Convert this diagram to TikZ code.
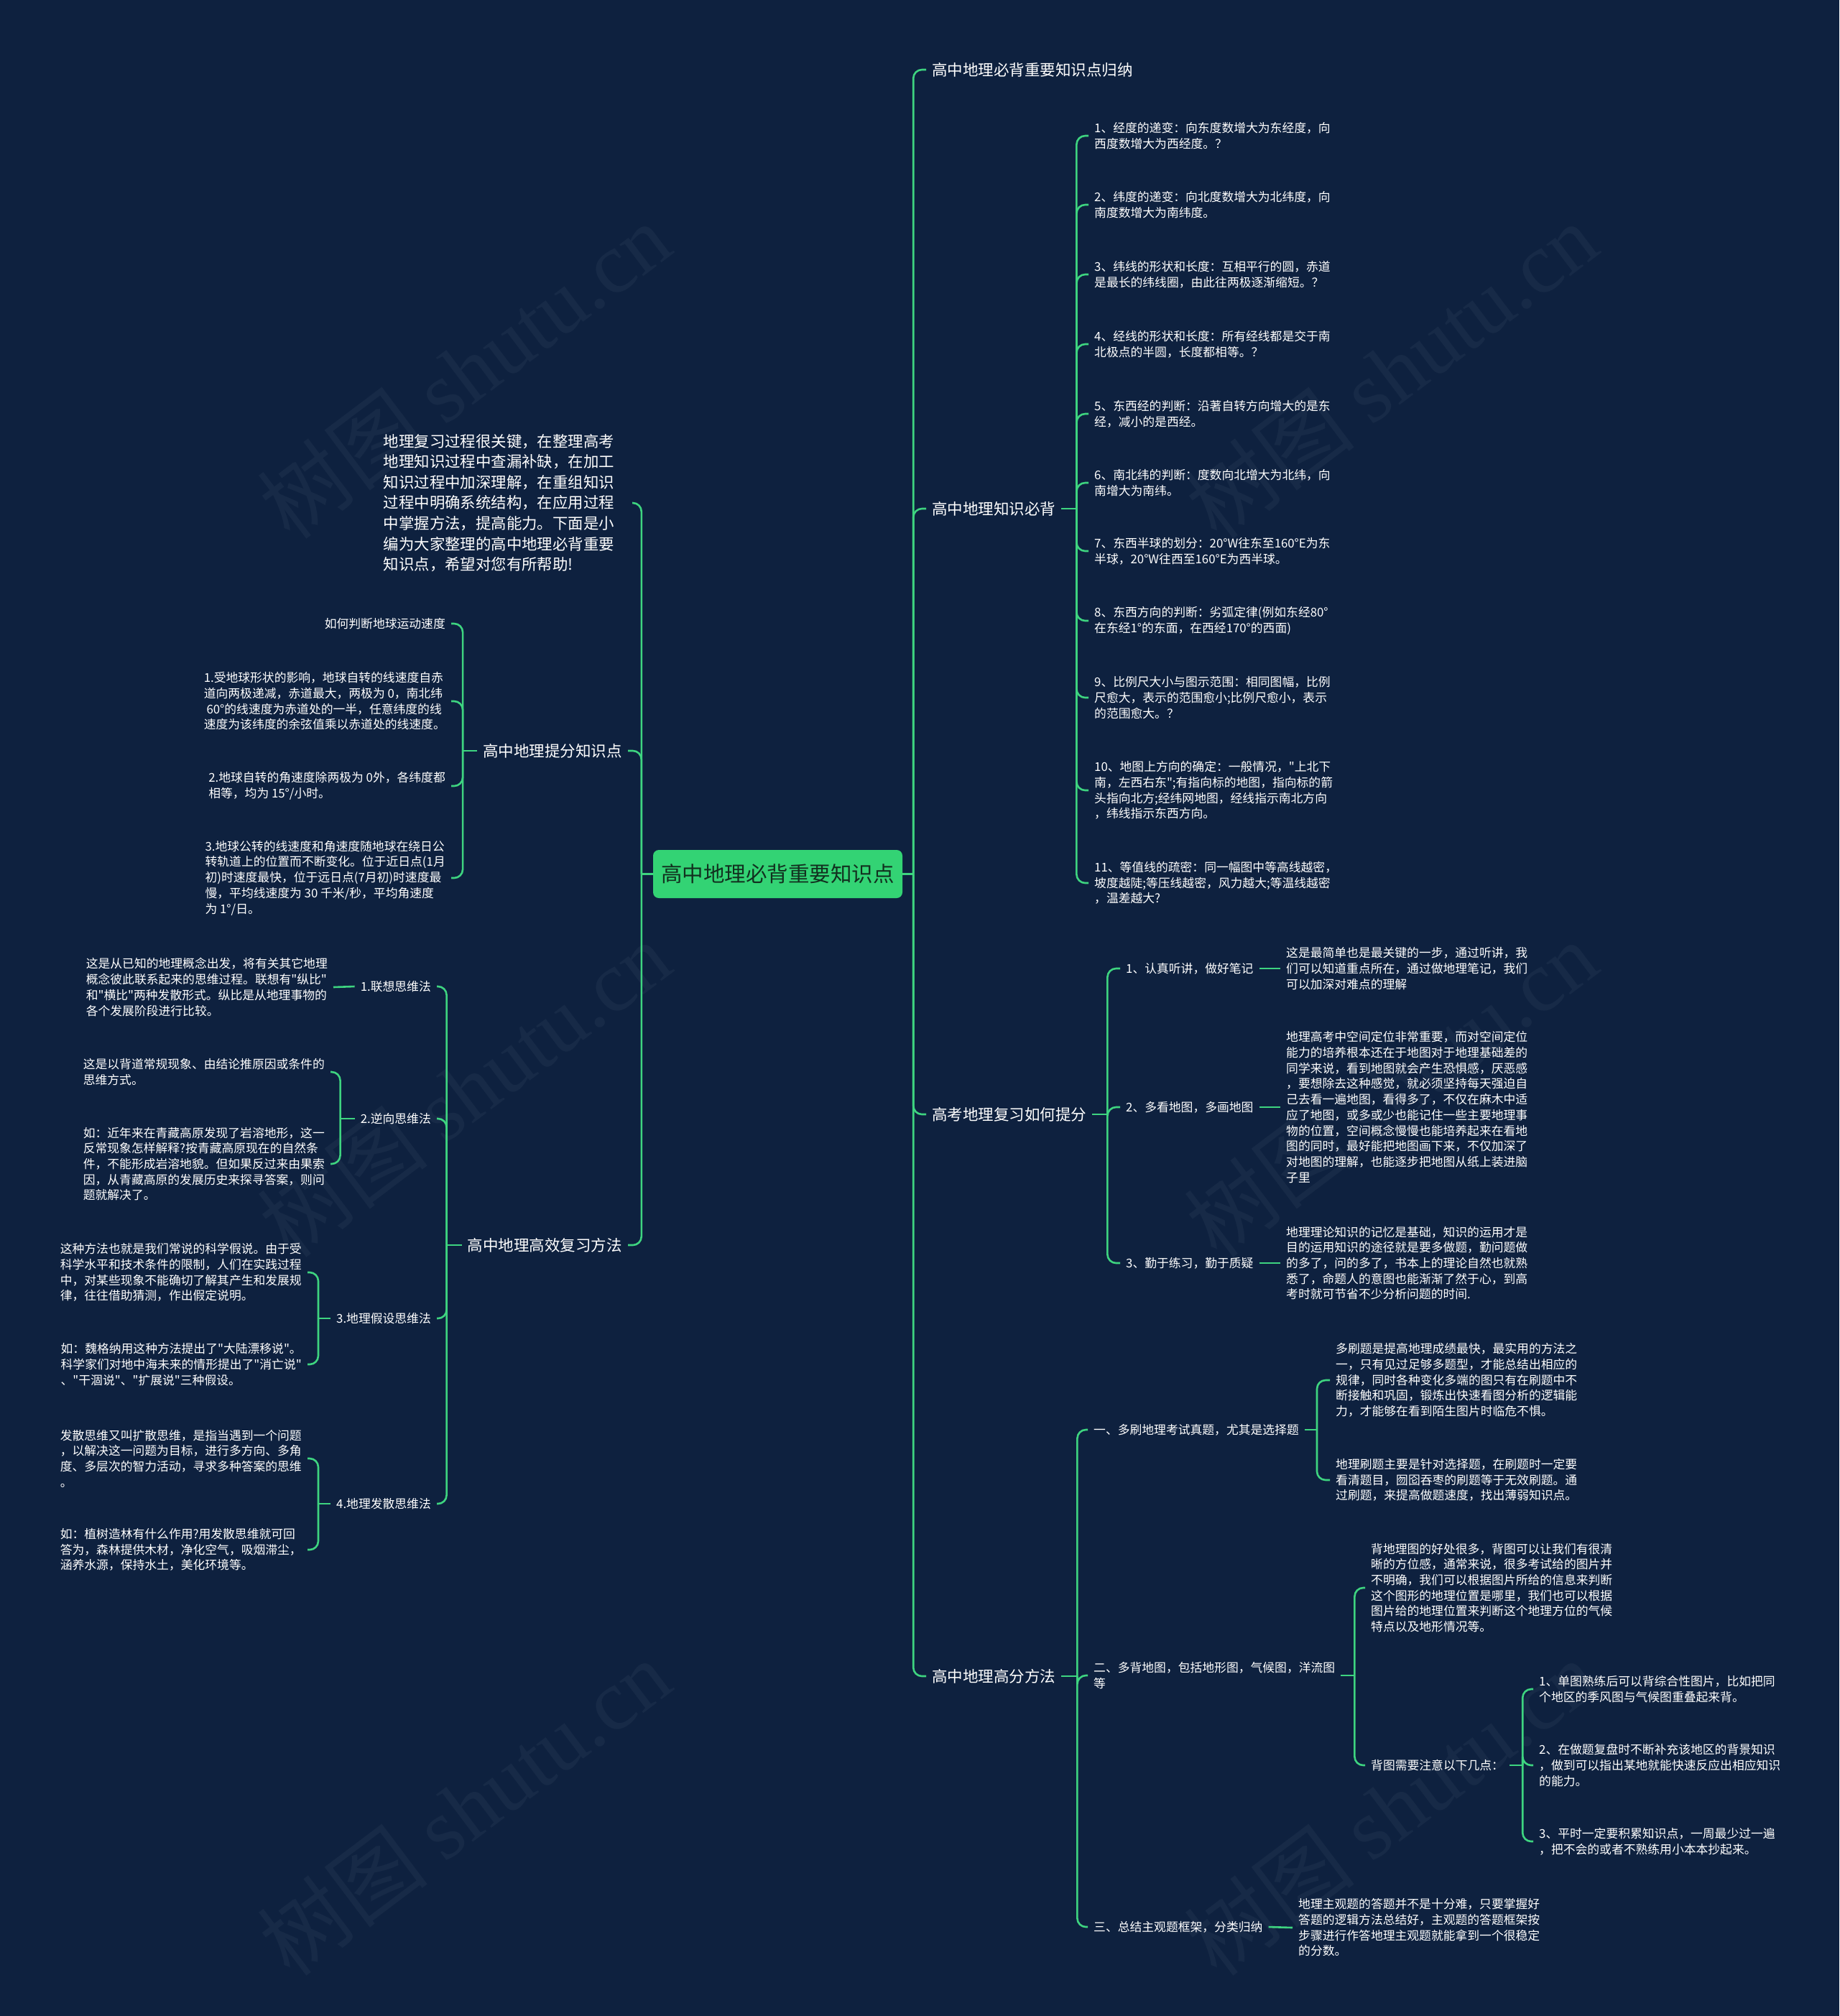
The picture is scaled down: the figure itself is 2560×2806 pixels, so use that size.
\documentclass[tikz,border=0pt]{standalone}
\usepackage{fontspec}
\setmainfont{Noto Sans CJK SC}[Ligatures=TeXOff]
\newfontfamily\wmfont{Liberation Serif}
\definecolor{bgnavy}{HTML}{0E213F}
\definecolor{mapgreen}{HTML}{3ED480}
\definecolor{rootgreen}{HTML}{33D374}
\definecolor{rootink}{HTML}{12301F}
\definecolor{wmgray}{HTML}{172A47}

\begin{document}
\begin{tikzpicture}[x=1pt, y=-1pt,
    every node/.style={text=white, inner ysep=0pt},
    rootbox/.style={fill=rootgreen, text=rootink, rounded corners=8pt, minimum width=347pt, minimum height=67pt, font=\fontsize{29.5}{35}\selectfont},
    branch/.style={inner xsep=8pt, font=\fontsize{21.5}{28}\selectfont},
    intro/.style={inner xsep=25pt, align=left, font=\fontsize{21.4}{28.6}\selectfont},
    leaf/.style={inner xsep=8pt, align=left, font=\fontsize{16.8}{21.7}\selectfont},
    wire/.style={draw=mapgreen, line width=2.6pt, rounded corners=12pt},
    wmark/.style={text=wmgray, rotate=37, font=\fontsize{120}{130}\selectfont}]

    \fill[bgnavy] (0,0) rectangle (2560,2806);
    \useasboundingbox (0,0) rectangle (2560,2806);

    % watermark
    \foreach \wx in {646,1936} \foreach \wy in {516,1516,2516}
        \node[wmark] (wm-\wx-\wy) at (\wx,\wy) {树图 {\wmfont shutu.cn}};

    \node[rootbox] (root) at (1082.5,1216.5) {高中地理必背重要知识点};

    % right side
    \node[branch, anchor=west] (b1) at (1289,97) {高中地理必背重要知识点归纳};
    \node[branch, anchor=west] (b2) at (1289,708) {高中地理知识必背};
    \node[branch, anchor=west] (b3) at (1289,1551) {高考地理复习如何提分};
    \node[branch, anchor=west] (b4) at (1289,2333) {高中地理高分方法};

    \node[leaf, anchor=west] (k1) at (1515,189) {1、经度的递变：向东度数增大为东经度，向\\西度数增大为西经度。？};
    \node[leaf, anchor=west] (k2) at (1515,285) {2、纬度的递变：向北度数增大为北纬度，向\\南度数增大为南纬度。};
    \node[leaf, anchor=west] (k3) at (1515,382) {3、纬线的形状和长度：互相平行的圆，赤道\\是最长的纬线圈，由此往两极逐渐缩短。？};
    \node[leaf, anchor=west] (k4) at (1515,479) {4、经线的形状和长度：所有经线都是交于南\\北极点的半圆，长度都相等。？};
    \node[leaf, anchor=west] (k5) at (1515,576) {5、东西经的判断：沿著自转方向增大的是东\\经，减小的是西经。};
    \node[leaf, anchor=west] (k6) at (1515,672) {6、南北纬的判断：度数向北增大为北纬，向\\南增大为南纬。};
    \node[leaf, anchor=west] (k7) at (1515,767) {7、东西半球的划分：20°W往东至160°E为东\\半球，20°W往西至160°E为西半球。};
    \node[leaf, anchor=west] (k8) at (1515,864) {8、东西方向的判断：劣弧定律(例如东经80°\\在东经1°的东面，在西经170°的西面)};
    \node[leaf, anchor=west] (k9) at (1515,971) {9、比例尺大小与图示范围：相同图幅，比例\\尺愈大，表示的范围愈小;比例尺愈小，表示\\的范围愈大。？};
    \node[leaf, anchor=west] (k10) at (1515,1100) {10、地图上方向的确定：一般情况，"上北下\\南，左西右东";有指向标的地图，指向标的箭\\头指向北方;经纬网地图，经线指示南北方向\\，纬线指示东西方向。};
    \node[leaf, anchor=west] (k11) at (1515,1229) {11、等值线的疏密：同一幅图中等高线越密，\\坡度越陡;等压线越密，风力越大;等温线越密\\，温差越大?};

    \node[leaf, anchor=west] (m1) at (1559,1348) {1、认真听讲，做好笔记};
    \node[leaf, anchor=west] (m2) at (1559,1541) {2、多看地图，多画地图};
    \node[leaf, anchor=west] (m3) at (1559,1758) {3、勤于练习，勤于质疑};
    \node[leaf, anchor=west] (n1) at (1782,1348) {这是最简单也是最关键的一步，通过听讲，我\\们可以知道重点所在，通过做地理笔记，我们\\可以加深对难点的理解};
    \node[leaf, anchor=west] (n2) at (1782,1541) {地理高考中空间定位非常重要，而对空间定位\\能力的培养根本还在于地图对于地理基础差的\\同学来说，看到地图就会产生恐惧感，厌恶感\\，要想除去这种感觉，就必须坚持每天强迫自\\己去看一遍地图，看得多了，不仅在麻木中适\\应了地图，或多或少也能记住一些主要地理事\\物的位置，空间概念慢慢也能培养起来在看地\\图的同时，最好能把地图画下来，不仅加深了\\对地图的理解，也能逐步把地图从纸上装进脑\\子里};
    \node[leaf, anchor=west] (n3) at (1782,1758) {地理理论知识的记忆是基础，知识的运用才是\\目的运用知识的途径就是要多做题，勤问题做\\的多了，问的多了，书本上的理论自然也就熟\\悉了，命题人的意图也能渐渐了然于心，到高\\考时就可节省不少分析问题的时间.};

    \node[leaf, anchor=west] (p1) at (1514,1990) {一、多刷地理考试真题，尤其是选择题};
    \node[leaf, anchor=west] (p2) at (1514,2332) {二、多背地图，包括地形图，气候图，洋流图\\等};
    \node[leaf, anchor=west] (p3) at (1514,2682) {三、总结主观题框架，分类归纳};
    \node[leaf, anchor=west] (q1) at (1851,1921) {多刷题是提高地理成绩最快，最实用的方法之\\一，只有见过足够多题型，才能总结出相应的\\规律，同时各种变化多端的图只有在刷题中不\\断接触和巩固，锻炼出快速看图分析的逻辑能\\力，才能够在看到陌生图片时临危不惧。};
    \node[leaf, anchor=west] (q2) at (1851,2060) {地理刷题主要是针对选择题，在刷题时一定要\\看清题目，囫囵吞枣的刷题等于无效刷题。通\\过刷题，来提高做题速度，找出薄弱知识点。};
    \node[leaf, anchor=west] (q3) at (1900,2210) {背地理图的好处很多，背图可以让我们有很清\\晰的方位感，通常来说，很多考试给的图片并\\不明确，我们可以根据图片所给的信息来判断\\这个图形的地理位置是哪里，我们也可以根据\\图片给的地理位置来判断这个地理方位的气候\\特点以及地形情况等。};
    \node[leaf, anchor=west] (q4) at (1900,2457) {背图需要注意以下几点：};
    \node[leaf, anchor=west] (r1) at (2134,2351) {1、单图熟练后可以背综合性图片，比如把同\\个地区的季风图与气候图重叠起来背。};
    \node[leaf, anchor=west] (r2) at (2134,2457) {2、在做题复盘时不断补充该地区的背景知识\\，做到可以指出某地就能快速反应出相应知识\\的能力。};
    \node[leaf, anchor=west] (r3) at (2134,2563) {3、平时一定要积累知识点，一周最少过一遍\\，把不会的或者不熟练用小本本抄起来。};
    \node[leaf, anchor=west] (q5) at (1799,2683) {地理主观题的答题并不是十分难，只要掌握好\\答题的逻辑方法总结好，主观题的答题框架按\\步骤进行作答地理主观题就能拿到一个很稳定\\的分数。};

    % left side
    \node[intro, anchor=east] (l1) at (880,700) {地理复习过程很关键，在整理高考\\地理知识过程中查漏补缺，在加工\\知识过程中加深理解，在重组知识\\过程中明确系统结构，在应用过程\\中掌握方法，提高能力。下面是小\\编为大家整理的高中地理必背重要\\知识点，希望对您有所帮助!};
    \node[branch, anchor=east] (l2) at (874,1045) {高中地理提分知识点};
    \node[branch, anchor=east] (l3) at (874,1733) {高中地理高效复习方法};

    \node[leaf, anchor=east] (s1) at (628,868) {如何判断地球运动速度};
    \node[leaf, anchor=east] (s2) at (628,976) {1.受地球形状的影响，地球自转的线速度自赤\\道向两极递减，赤道最大，两极为 0，南北纬\\~60°的线速度为赤道处的一半，任意纬度的线\\速度为该纬度的余弦值乘以赤道处的线速度。};
    \node[leaf, anchor=east] (s3) at (628,1094) {2.地球自转的角速度除两极为 0外，各纬度都\\相等，均为 15°/小时。};
    \node[leaf, anchor=east] (s4) at (628,1222) {3.地球公转的线速度和角速度随地球在绕日公\\转轨道上的位置而不断变化。位于近日点(1月\\初)时速度最快，位于远日点(7月初)时速度最\\慢，平均线速度为 30 千米/秒，平均角速度\\为 1°/日。};

    \node[leaf, anchor=east] (t1) at (608,1373) {1.联想思维法};
    \node[leaf, anchor=east] (t2) at (608,1557) {2.逆向思维法};
    \node[leaf, anchor=east] (t3) at (608,1835) {3.地理假设思维法};
    \node[leaf, anchor=east] (t4) at (608,2093) {4.地理发散思维法};
    \node[leaf, anchor=east] (u1) at (464,1374) {这是从已知的地理概念出发，将有关其它地理\\概念彼此联系起来的思维过程。联想有"纵比"\\和"横比"两种发散形式。纵比是从地理事物的\\各个发展阶段进行比较。};
    \node[leaf, anchor=east] (u2) at (460,1492) {这是以背道常规现象、由结论推原因或条件的\\思维方式。};
    \node[leaf, anchor=east] (u3) at (460,1620) {如：近年来在青藏高原发现了岩溶地形，这一\\反常现象怎样解释?按青藏高原现在的自然条\\件，不能形成岩溶地貌。但如果反过来由果索\\因，从青藏高原的发展历史来探寻答案，则问\\题就解决了。};
    \node[leaf, anchor=east] (u4) at (428,1771) {这种方法也就是我们常说的科学假说。由于受\\科学水平和技术条件的限制，人们在实践过程\\中，对某些现象不能确切了解其产生和发展规\\律，往往借助猜测，作出假定说明。};
    \node[leaf, anchor=east] (u5) at (428,1899) {如：魏格纳用这种方法提出了"大陆漂移说"。\\科学家们对地中海未来的情形提出了"消亡说"\\、"干涸说"、"扩展说"三种假设。};
    \node[leaf, anchor=east] (u6) at (428,2030) {发散思维又叫扩散思维，是指当遇到一个问题\\，以解决这一问题为目标，进行多方向、多角\\度、多层次的智力活动，寻求多种答案的思维\\。};
    \node[leaf, anchor=east] (u7) at (428,2157) {如：植树造林有什么作用?用发散思维就可回\\答为，森林提供木材，净化空气，吸烟滞尘，\\涵养水源，保持水土，美化环境等。};

    % trunks
    \draw[wire] (root.east) -- ++(15,0) coordinate (rj);
    \foreach \b in {b1,b2,b3,b4} \draw[wire] (rj) |- (\b.west);
    \draw[wire] (root.west) -- ++(-16,0) coordinate (lj);
    \foreach \b in {l1,l2,l3} \draw[wire] (lj) |- (\b.east);

    % right branches
    \draw[wire] (b2.east) -- ++(21,0) coordinate (b2j);
    \foreach \i in {1,...,11} \draw[wire] (b2j) |- (k\i.west);
    \draw[wire] (b3.east) -- ++(21,0) coordinate (b3j);
    \foreach \i in {1,2,3} {
        \draw[wire] (b3j) |- (m\i.west);
        \draw[wire] (m\i.east) -- (n\i.west);
    }
    \draw[wire] (b4.east) -- ++(22,0) coordinate (b4j);
    \foreach \i in {1,2,3} \draw[wire] (b4j) |- (p\i.west);
    \draw[wire] (p1.east) -- ++(17,0) coordinate (p1j);
    \foreach \c in {q1,q2} \draw[wire] (p1j) |- (\c.west);
    \draw[wire] (p2.east) -- ++(19,0) coordinate (p2j);
    \foreach \c in {q3,q4} \draw[wire] (p2j) |- (\c.west);
    \draw[wire] (q4.east) -- ++(18,0) coordinate (q4j);
    \foreach \c in {r1,r2,r3} \draw[wire] (q4j) |- (\c.west);
    \draw[wire] (p3.east) -- (q5.west);

    % left branches
    \draw[wire] (l2.west) -- ++(-20,0) coordinate (l2j);
    \foreach \i in {1,...,4} \draw[wire] (l2j) |- (s\i.east);
    \draw[wire] (l3.west) -- ++(-21,0) coordinate (l3j);
    \foreach \i in {1,...,4} \draw[wire] (l3j) |- (t\i.east);
    \draw[wire] (t1.west) -- (u1.east);
    \draw[wire] (t2.west) -- ++(-20,0) coordinate (t2j);
    \foreach \c in {u2,u3} \draw[wire] (t2j) |- (\c.east);
    \draw[wire] (t3.west) -- ++(-17,0) coordinate (t3j);
    \foreach \c in {u4,u5} \draw[wire] (t3j) |- (\c.east);
    \draw[wire] (t4.west) -- ++(-17,0) coordinate (t4j);
    \foreach \c in {u6,u7} \draw[wire] (t4j) |- (\c.east);
\end{tikzpicture}
\end{document}
